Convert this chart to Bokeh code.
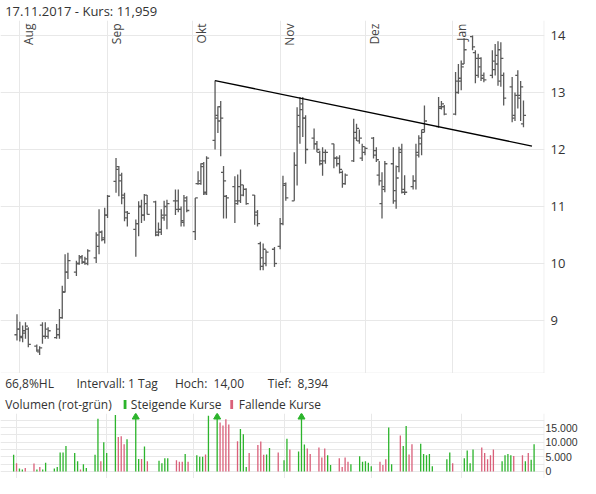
from math import pi
import pandas as pd
from bokeh.plotting import figure
from bokeh.layouts import column
from bokeh.models import Range1d, FixedTicker, Span, ColumnDataSource
from bokeh.core.properties import value
from bokeh.embed import file_html
from bokeh.resources import INLINE

# ---------------- data ----------------
dates = [
    "2017-07-31", "2017-08-01", "2017-08-02", "2017-08-03", "2017-08-04",
    "2017-08-07", "2017-08-08", "2017-08-09", "2017-08-10", "2017-08-11",
    "2017-08-14", "2017-08-15", "2017-08-16", "2017-08-17", "2017-08-18",
    "2017-08-21", "2017-08-22", "2017-08-23", "2017-08-24", "2017-08-25",
    "2017-08-28", "2017-08-29", "2017-08-30", "2017-08-31", "2017-09-01",
    "2017-09-04", "2017-09-05", "2017-09-06", "2017-09-07", "2017-09-08",
    "2017-09-11", "2017-09-12", "2017-09-13", "2017-09-14", "2017-09-15",
    "2017-09-18", "2017-09-19", "2017-09-20", "2017-09-21", "2017-09-22",
    "2017-09-25", "2017-09-26", "2017-09-27", "2017-09-28", "2017-09-29",
    "2017-10-02", "2017-10-03", "2017-10-04", "2017-10-05", "2017-10-06",
    "2017-10-09", "2017-10-10", "2017-10-11", "2017-10-12", "2017-10-13",
    "2017-10-16", "2017-10-17", "2017-10-18", "2017-10-19", "2017-10-20",
    "2017-10-23", "2017-10-24", "2017-10-25", "2017-10-26", "2017-10-27",
    "2017-10-30", "2017-11-01", "2017-11-02", "2017-11-03",
    "2017-11-06", "2017-11-07", "2017-11-08", "2017-11-09", "2017-11-10",
    "2017-11-13", "2017-11-14", "2017-11-15", "2017-11-16", "2017-11-17",
    "2017-11-20", "2017-11-21", "2017-11-22", "2017-11-23", "2017-11-24",
    "2017-11-27", "2017-11-28", "2017-11-29", "2017-11-30", "2017-12-01",
    "2017-12-04", "2017-12-05", "2017-12-06", "2017-12-07", "2017-12-08",
    "2017-12-11", "2017-12-12", "2017-12-13", "2017-12-14", "2017-12-15",
    "2017-12-18", "2017-12-19", "2017-12-20", "2017-12-21", "2017-12-22",
    "2017-12-27", "2017-12-28", "2017-12-29",
    "2018-01-02", "2018-01-03", "2018-01-04", "2018-01-05",
    "2018-01-08", "2018-01-09", "2018-01-10", "2018-01-11", "2018-01-12",
    "2018-01-15", "2018-01-16", "2018-01-17", "2018-01-18", "2018-01-19",
    "2018-01-22", "2018-01-23", "2018-01-24", "2018-01-25", "2018-01-26",
]

opens = [
    8.75, 8.85, 8.70, 8.78, 8.85,
    8.55, 8.45, 8.92, 8.72, 8.72,
    8.70, 8.75, 9.05, 9.50, 9.85,
    9.85, 10.00, 10.12, 10.02, 10.00,
    10.10, 10.30, 10.55, 10.45, 10.85,
    11.44, 11.70, 11.55, 11.15, 10.80,
    10.60, 10.70, 11.00, 10.85, 11.20,
    11.08, 10.50, 10.55, 10.80, 10.85,
    11.10, 11.10, 10.95, 10.72, 11.15,
    10.56, 11.40, 11.40, 11.75, 11.25,
    12.16, 12.60, 12.75, 11.60, 11.18,
    11.35, 11.05, 11.10, 11.20, 11.30,
    11.20, 10.90, 10.35, 9.95, 10.00,
    10.25, 10.30, 10.70, 11.40,
    11.10, 11.72, 12.40, 12.80, 12.55,
    12.20, 12.10, 11.95, 11.75, 11.80,
    12.10, 11.85, 11.85, 11.60, 11.40,
    11.80, 12.20, 12.15, 11.85, 11.95,
    12.20, 11.98, 11.55, 11.05, 11.30,
    11.75, 11.10, 11.70, 12.00, 11.30,
    11.35, 11.45, 11.90, 12.10, 12.35,
    12.40, 12.72, 12.75,
    12.62, 13.00, 13.20, 13.50,
    13.98, 13.70, 13.60, 13.60, 13.30,
    13.30, 13.40, 13.50, 13.20, 13.30,
    13.10, 12.60, 13.30, 12.90, 12.45,
]

highs = [
    9.11, 8.98, 8.91, 8.97, 8.88,
    8.58, 8.55, 8.97, 8.97, 8.88,
    8.94, 9.20, 9.61, 10.16, 10.19,
    10.05, 10.15, 10.15, 10.12, 10.25,
    10.55, 10.95, 10.58, 10.98, 11.20,
    11.85, 11.71, 11.59, 11.24, 10.92,
    10.77, 11.09, 11.12, 11.22, 11.20,
    11.10, 10.72, 10.95, 11.10, 11.12,
    11.30, 11.30, 11.00, 11.20, 11.18,
    11.15, 11.62, 11.76, 11.78, 11.88,
    13.21, 12.76, 12.85, 11.71, 11.20,
    11.53, 11.56, 11.65, 11.38, 11.32,
    11.20, 10.94, 10.38, 10.35, 10.24,
    10.29, 10.80, 11.54, 11.42,
    11.95, 12.74, 12.92, 12.92, 12.60,
    12.37, 12.15, 11.98, 12.04, 12.00,
    12.10, 11.88, 11.90, 11.63, 11.58,
    12.54, 12.45, 12.35, 12.10, 12.05,
    12.22, 12.04, 11.80, 11.60, 11.80,
    12.04, 11.72, 12.05, 12.10, 11.55,
    11.55, 12.10, 12.25, 12.35, 12.77,
    12.92, 12.85, 12.78,
    13.36, 13.50, 13.56, 13.95,
    14.00, 13.74, 13.68, 13.62, 13.35,
    13.74, 13.85, 13.90, 13.88, 13.35,
    13.27, 13.00, 13.39, 13.20, 12.86,
]

lows = [
    8.65, 8.63, 8.62, 8.68, 8.53,
    8.45, 8.394, 8.59, 8.68, 8.68,
    8.68, 8.68, 9.03, 9.49, 9.73,
    9.78, 9.98, 9.99, 9.98, 9.97,
    10.01, 10.16, 10.39, 10.35, 10.80,
    11.24, 11.18, 11.04, 10.74, 10.65,
    10.12, 10.48, 10.71, 10.75, 10.86,
    10.48, 10.48, 10.50, 10.75, 10.60,
    10.85, 10.90, 10.65, 10.65, 10.90,
    10.41, 11.38, 11.38, 11.20, 11.20,
    12.00, 12.29, 11.88, 10.79, 10.79,
    10.71, 11.03, 11.06, 11.18, 11.03,
    10.68, 10.65, 9.88, 9.88, 9.95,
    9.94, 10.25, 10.67, 11.10,
    11.10, 11.37, 12.10, 12.22, 11.75,
    12.00, 11.95, 11.72, 11.54, 11.75,
    11.67, 11.70, 11.58, 11.33, 11.38,
    11.78, 12.15, 12.10, 11.80, 11.90,
    11.84, 11.78, 11.37, 10.79, 11.25,
    11.05, 10.96, 11.60, 11.23, 11.20,
    11.30, 11.30, 11.86, 11.90, 12.30,
    12.38, 12.70, 12.60,
    12.60, 12.98, 13.04, 13.50,
    13.74, 13.16, 13.26, 13.20, 13.18,
    13.25, 13.30, 13.12, 13.10, 12.77,
    12.48, 12.50, 12.72, 12.50, 12.39,
]

closes = [
    8.85, 8.72, 8.82, 8.90, 8.58,
    8.48, 8.52, 8.72, 8.85, 8.82,
    8.85, 9.05, 9.50, 9.85, 10.05,
    10.00, 10.10, 10.03, 10.08, 10.22,
    10.50, 10.55, 10.42, 10.85, 11.18,
    11.65, 11.45, 11.20, 10.90, 10.88,
    10.70, 11.00, 10.85, 11.05, 10.86,
    10.55, 10.60, 10.85, 11.00, 11.05,
    10.95, 10.95, 10.75, 11.10, 10.93,
    11.15, 11.45, 11.70, 11.22, 11.85,
    12.55, 12.50, 12.55, 11.45, 11.15,
    11.10, 11.35, 11.38, 11.30, 11.05,
    10.85, 10.70, 10.10, 10.25, 10.20,
    10.00, 10.70, 11.37, 11.15,
    11.72, 12.60, 12.70, 12.55, 12.00,
    12.10, 12.00, 11.80, 11.95, 11.95,
    11.85, 11.75, 11.65, 11.40, 11.55,
    12.30, 12.37, 12.20, 12.05, 12.02,
    11.90, 11.82, 11.45, 11.35, 11.75,
    11.28, 11.50, 11.95, 11.25, 11.25,
    11.45, 11.95, 12.20, 12.30, 12.50,
    12.75, 12.80, 12.62,
    13.20, 13.25, 13.45, 13.75,
    13.80, 13.30, 13.45, 13.25, 13.22,
    13.55, 13.65, 13.75, 13.60, 12.90,
    12.55, 12.95, 12.95, 13.10, 12.60,
]

volumes = [
    5700, 2800, 1000, 700, 1200,
    2700, 700, 1500, 700, 3000,
    1000, 1500, 6500, 6500, 8700,
    6300, 3500, 700, 2500, 1200,
    5700, 18000, 3500, 10000, 6300,
    19300, 11800, 12000, 9300, 11000,
    26000, 4300, 4300, 8500, 3500,
    0, 3700, 2800, 4500, 4500,
    3800, 3300, 3300, 6000, 3300,
    5500, 5000, 5000, 5800, 19000,
    30000, 16700, 15700, 17800, 16000,
    10300, 14500, 12700, 1500, 6300,
    9000, 10200, 5700, 5800, 8000,
    6500, 3800, 11200, 7500,
    6800, 26000, 9200, 7800, 6000,
    8200, 4800, 7800, 5500, 2200,
    4500, 1500, 4800, 3300, 2500,
    5200, 3300, 3500, 3000, 1800,
    3300, 2200, 4200, 15000, 2500,
    12300, 8700, 15500, 5800, 9300,
    9500, 6000, 5500, 6000, 1800,
    4200, 6500, 2800,
    4500, 7200, 2800, 7500,
    8200, 6300, 4200, 5500, 7500,
    3500, 5500, 6000, 5500, 5300,
    5500, 3500, 6300, 4000, 9300,
]

trend_dates = ["2017-10-09", "2018-01-29"]
trend_values = [13.21, 12.06]

month_starts = ["2017-08-01", "2017-09-01", "2017-10-01", "2017-11-01", "2017-12-01", "2018-01-01"]
month_labels = ["Aug", "Sep", "Okt", "Nov", "Dez", "Jan"]

price_ticks = [9, 10, 11, 12, 13, 14]
volume_ticks = [0, 5000, 10000, 15000]
volume_tick_labels = ["0", "5.000", "10.000", "15.000"]
volume_grid = [0, 2500, 5000, 7500, 10000, 12500, 15000, 17500]

title_text = "17.11.2017 - Kurs: 11,959"
info_texts = ["66,8%HL", "Intervall: 1 Tag", "Hoch:\u00a0\u00a014,00", "Tief:\u00a0\u00a08,394"]
legend_texts = ["Volumen (rot-grün)", "Steigende Kurse", "Fallende Kurse"]

# ---------------- styling ----------------
FONT = "Open Sans"
TXT = "#333333"
BAR = "#5a5a5a"
GRID = "#e8e8e8"
GREEN = "#2cb42c"
RED = "#d9607a"

base = pd.Timestamp("2017-07-31")


def to_days(ds):
    return [float((pd.Timestamp(s) - base).days) for s in ds]


xd = to_days(dates)
mdays = to_days(month_starts)
up = [c >= o for o, c in zip(opens, closes)]

W = 580


def base_fig(h, xr, yr, yloc=None, right=0):
    f = figure(width=W, height=h, x_range=xr, y_range=yr,
               x_axis_location=None, y_axis_location=yloc,
               toolbar_location=None, output_backend="svg",
               min_border_left=0, min_border_right=right,
               min_border_top=0, min_border_bottom=0)
    f.outline_line_color = None
    f.background_fill_color = "white"
    f.border_fill_color = "white"
    return f


def style_axis(a, font, size, standoff):
    a.axis_line_color = None
    a.major_tick_line_color = None
    a.minor_tick_line_color = None
    a.major_tick_out = 0
    a.major_tick_in = 0
    a.major_label_standoff = standoff
    a.major_label_text_font = font
    a.major_label_text_font_size = size
    a.major_label_text_color = TXT


# ---- header ----
head = base_fig(20, Range1d(0, W), Range1d(20, 0))
head.grid.visible = False
head.text(x=[5], y=[10], text=[title_text], text_font=value(FONT),
          text_font_size="13px", text_color=TXT, text_baseline="middle")

# ---- price chart ----
px0, px1 = -5.827, 186.43
p = base_fig(353, Range1d(px0, px1), Range1d(8.070, 14.263), yloc="right", right=29)
p.xgrid.ticker = FixedTicker(ticks=mdays)
p.ygrid.ticker = FixedTicker(ticks=price_ticks)
p.grid.grid_line_color = GRID
p.yaxis[0].ticker = FixedTicker(ticks=price_ticks)
style_axis(p.yaxis[0], FONT, "13px", 6)

p.add_layout(Span(location=px1 - 0.12, dimension="height", line_color=GRID, line_width=1))
p.add_layout(Span(location=8.075, dimension="width", line_color=GRID, line_width=1))

TICK = 0.9
src = ColumnDataSource(dict(
    x=xd, o=opens, h=highs, l=lows, c=closes,
    xl=[v - TICK for v in xd], xr=[v + TICK for v in xd],
))
p.segment(x0="x", y0="l", x1="x", y1="h", source=src, line_color=BAR, line_width=1.3)
p.segment(x0="xl", y0="o", x1="x", y1="o", source=src, line_color=BAR, line_width=1.3)
p.segment(x0="x", y0="c", x1="xr", y1="c", source=src, line_color=BAR, line_width=1.3)

p.line(x=to_days(trend_dates), y=trend_values, line_color="black", line_width=1.3)

p.text(x=[m + 3.2 for m in mdays], y=[14.21] * len(mdays), text=month_labels,
       angle=pi / 2, text_align="right", text_baseline="middle",
       text_font=value(FONT), text_font_size="12px", text_color="#444444")

# ---- info / legend strip ----
info = base_fig(40, Range1d(0, W), Range1d(40, 0))
info.grid.visible = False
info.text(x=[5, 81, 186, 285], y=[10] * 4, text=info_texts, text_font=value(FONT),
          text_font_size="12px", text_color=TXT, text_baseline="middle")
info.text(x=[5, 139, 254], y=[31] * 3, text=legend_texts, text_font=value(FONT),
          text_font_size="12px", text_color=TXT, text_baseline="middle")
info.rect(x=[132.8, 246.5], y=[31, 31], width=3, height=9,
          fill_color=[GREEN, RED], line_color=None)

# ---- volume chart ----
vx0, vx1 = -4.516, 182.58
vtop = 19775
v = base_fig(65, Range1d(vx0, vx1), Range1d(-2387, vtop), yloc="right", right=33)
v.xgrid.ticker = FixedTicker(ticks=mdays)
v.ygrid.ticker = FixedTicker(ticks=volume_grid)
v.grid.grid_line_color = GRID
v.yaxis[0].ticker = FixedTicker(ticks=volume_ticks)
v.yaxis[0].major_label_overrides = {t: s for t, s in zip(volume_ticks, volume_tick_labels)}
style_axis(v.yaxis[0], "Liberation Sans", "10.5px", 1)
v.add_layout(Span(location=vx1 - 0.12, dimension="height", line_color=GRID, line_width=1))

vsrc = ColumnDataSource(dict(
    x=xd, vol=volumes, color=[GREEN if u else RED for u in up],
))
v.vbar(x="x", top="vol", bottom=0, width=0.45, source=vsrc,
       fill_color="color", line_color=None)

ARROW_LEVEL = 18580
clip_x = [xv for xv, vol in zip(xd, volumes) if vol > vtop]
clip_c = [GREEN if u else RED for u, vol in zip(up, volumes) if vol > vtop]
v.scatter(x=clip_x, y=[ARROW_LEVEL] * len(clip_x), marker="triangle", size=7,
          fill_color=clip_c, line_color=clip_c)

layout = column(head, p, info, v, spacing=0)
open("out.html", "w").write(file_html(layout, INLINE))
